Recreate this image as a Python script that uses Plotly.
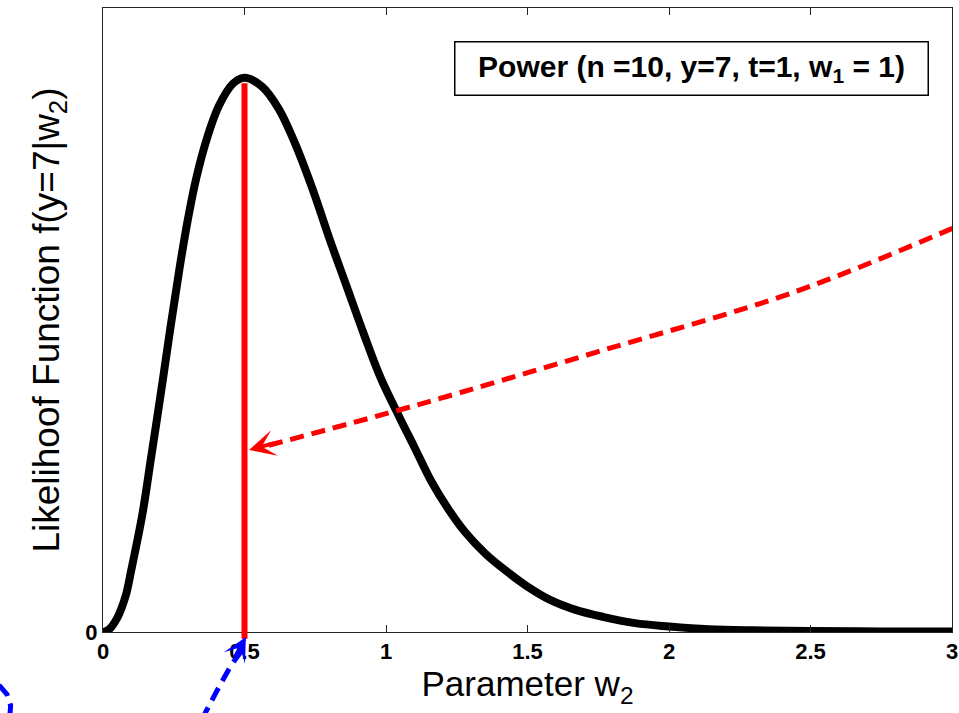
import plotly.graph_objects as go

# ---- data (likelihood normalised so the peak = 1) ----
w2_values = [0.00, 0.02, 0.05, 0.08, 0.10, 0.14, 0.17, 0.21, 0.24, 0.27, 0.30, 0.33,
             0.37, 0.41, 0.46, 0.50, 0.56, 0.62, 0.68, 0.74, 0.80, 0.86, 0.92, 0.98,
             1.05, 1.10, 1.16, 1.22, 1.28, 1.35, 1.42, 1.50, 1.58, 1.67, 1.77, 1.88,
             2.00, 2.14, 2.30, 2.50, 2.75, 3.00]
likelihood = [0.000, 0.004, 0.025, 0.065, 0.112, 0.215, 0.315, 0.450, 0.555, 0.655, 0.745, 0.820,
              0.895, 0.950, 0.990, 1.000, 0.985, 0.945, 0.880, 0.800, 0.710, 0.625, 0.540, 0.460,
              0.385, 0.334, 0.272, 0.222, 0.180, 0.142, 0.112, 0.082, 0.058, 0.040, 0.027, 0.016,
              0.010, 0.005, 0.003, 0.002, 0.001, 0.001]

mle_w2 = 0.5
mle_height = 0.99

x_tick_values = [0, 0.5, 1, 1.5, 2, 2.5, 3]
x_tick_labels = ["0", "0.5", "1", "1.5", "2", "2.5", "3"]
y_tick_values = [0]
y_tick_labels = ["0"]

# red dashed pointer (data coordinates)
red_arrow_x = [0.586, 1.112, 1.744, 2.446, 3.004]
red_arrow_y = [0.337, 0.410, 0.505, 0.614, 0.729]
red_tip = (0.516, 0.3285)

# blue dashed pointer below the axis (x in data, y in paper fraction)
blue_arrow_x = [0.49, 0.453, 0.404, 0.361, 0.335]
blue_arrow_y = [-0.03, -0.053, -0.093, -0.130, -0.16]
blue_tip = (0.505, -0.008)
# blue arc fragment at far left (paper coordinates)
blue_arc_x = [-0.1225, -0.113, -0.1088, -0.110]
blue_arc_y = [-0.085, -0.100, -0.118, -0.140]

Y_MAX = 1.126
AXIS_COLOR = "#262626"
FONT = "Liberation Sans, Arial, Helvetica, sans-serif"

fig = go.Figure()
fig.add_trace(go.Scatter(x=w2_values, y=likelihood, mode="lines",
                         line=dict(color="black", width=8, shape="spline", smoothing=1.0),
                         hoverinfo="skip", showlegend=False))
fig.add_trace(go.Scatter(x=red_arrow_x, y=red_arrow_y, mode="lines",
                         line=dict(color="#ff0000", width=5, dash="14px,8px", shape="spline"),
                         hoverinfo="skip", showlegend=False))

# red vertical line at the maximum (extends a little below the axis)
fig.add_shape(type="line", xref="x", yref="paper", x0=mle_w2, x1=mle_w2,
              y0=-0.011, y1=mle_height / Y_MAX, line=dict(color="#ff0000", width=6))


def path_from(xs, ys):
    p = "M %f,%f" % (xs[0], ys[0])
    for a, b in zip(xs[1:], ys[1:]):
        p += " L %f,%f" % (a, b)
    return p


fig.add_shape(type="path", xref="x", yref="paper", path=path_from(blue_arrow_x, blue_arrow_y),
              line=dict(color="#0000ff", width=5, dash="14px,8px"))
fig.add_shape(type="path", xref="paper", yref="paper", path=path_from(blue_arc_x, blue_arc_y),
              line=dict(color="#0000ff", width=5, dash="14px,8px"))

# arrow heads
fig.add_annotation(x=red_tip[0], y=red_tip[1], xref="x", yref="y", ax=26, ay=-7,
                   showarrow=True, arrowhead=3, arrowsize=1.1, arrowwidth=4,
                   arrowcolor="#ff0000", text="", standoff=0)
fig.add_annotation(x=blue_tip[0], y=blue_tip[1], xref="x", yref="paper", ax=-12, ay=22,
                   showarrow=True, arrowhead=3, arrowsize=1.0, arrowwidth=4,
                   arrowcolor="#0000ff", text="", standoff=0)

# legend-like text box
fig.add_annotation(x=0.6936, y=0.903, xref="paper", yref="paper", showarrow=False,
                   xanchor="center", yanchor="middle",
                   text="Power (n =10, y=7, t=1, w<sub>1</sub> = 1)",
                   font=dict(family=FONT, size=30, color="black", weight="bold"),
                   bgcolor="white", bordercolor="black", borderwidth=1.5, borderpad=3,
                   width=466, height=46, align="center", valign="middle")

fig.update_layout(
    width=959, height=713,
    margin=dict(l=103, r=1, t=8, b=81),
    paper_bgcolor="white", plot_bgcolor="white",
    font=dict(family=FONT, color="black"),
)
fig.update_xaxes(range=[0, 3], tickvals=x_tick_values, ticktext=x_tick_labels,
                 ticks="inside", ticklen=7, tickwidth=1, tickcolor=AXIS_COLOR,
                 showline=True, linecolor=AXIS_COLOR, linewidth=1, mirror="ticks",
                 showgrid=False, zeroline=False, ticklabeloverflow="allow",
                 tickfont=dict(family=FONT, size=22, weight="bold"),
                 title=dict(text="Parameter w<sub>2</sub>", standoff=6,
                            font=dict(family=FONT, size=35)))
fig.update_yaxes(range=[0, Y_MAX], tickvals=y_tick_values, ticktext=y_tick_labels,
                 ticks="inside", ticklen=7, tickwidth=1, tickcolor=AXIS_COLOR,
                 showline=True, linecolor=AXIS_COLOR, linewidth=1, mirror="ticks",
                 showgrid=False, zeroline=False, ticklabeloverflow="allow",
                 tickfont=dict(family=FONT, size=22, weight="bold"),
                 title=dict(text="Likelihoof Function f(y=7|w<sub>2</sub>)", standoff=14,
                            font=dict(family=FONT, size=37)))

fig.write_html("out.html")
